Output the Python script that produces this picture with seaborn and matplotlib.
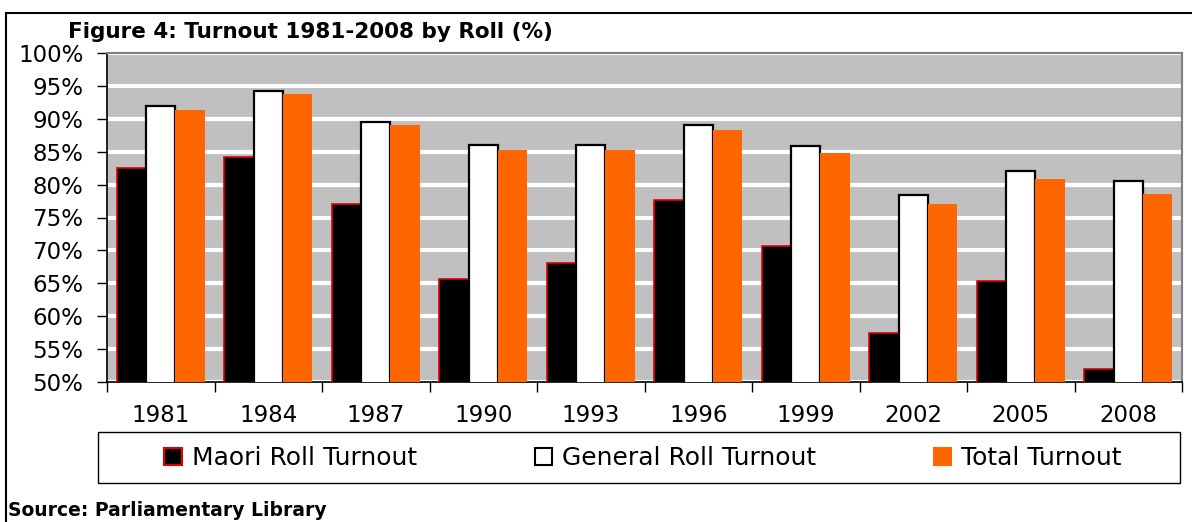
import matplotlib
matplotlib.use("Agg")
import matplotlib.pyplot as plt
import seaborn as sns
import pandas as pd
from matplotlib.patches import Rectangle
from matplotlib.ticker import FixedLocator, NullFormatter, FixedFormatter

years = ["1981", "1984", "1987", "1990", "1993", "1996", "1999", "2002", "2005", "2008"]
maori = [82.5, 84.2, 77.0, 65.6, 68.1, 77.6, 70.7, 57.5, 65.4, 52.0]
general = [91.9, 94.2, 89.5, 86.0, 86.0, 89.0, 85.8, 78.4, 82.1, 80.6]
total = [91.4, 93.7, 89.0, 85.2, 85.2, 88.3, 84.8, 77.0, 80.9, 78.5]
series_names = ["Maori Roll Turnout", "General Roll Turnout", "Total Turnout"]

df = pd.DataFrame({
    "Year": years * 3,
    "Series": [series_names[0]] * 10 + [series_names[1]] * 10 + [series_names[2]] * 10,
    "Turnout": maori + general + total,
})

sns.set_theme(style="white")
plt.rcParams["font.family"] = ["DejaVu Sans"]
plt.rcParams["text.color"] = "black"
plt.rcParams["xtick.color"] = "black"
plt.rcParams["ytick.color"] = "black"
plt.rcParams["xtick.labelcolor"] = "black"
plt.rcParams["ytick.labelcolor"] = "black"

W, H = 1192, 522
fig = plt.figure(figsize=(W / 100, H / 100), dpi=100)
ax = fig.add_axes([107 / W, 1 - 382 / H, 1075 / W, 329 / H])
ax.set_facecolor("#C0C0C0")

palette = {series_names[0]: "#000000", series_names[1]: "#FFFFFF", series_names[2]: "#FF6600"}
sns.barplot(data=df, x="Year", y="Turnout", hue="Series", order=years,
            hue_order=series_names, palette=palette, width=0.82, ax=ax,
            saturation=1, legend=False, zorder=3)

edge = {0: ("#E00000", 1.2), 1: ("#000000", 1.6), 2: ("#FF6600", 0.0)}
for i, cont in enumerate(ax.containers):
    ec, lw = edge[i]
    for b in cont:
        b.set_edgecolor(ec)
        b.set_linewidth(lw)

ax.set_ylim(50, 100)
ax.set_xlim(-0.5, 9.5)
yt = list(range(50, 101, 5))
ax.set_yticks(yt)
ax.set_yticklabels([f"{v}%" for v in yt], fontsize=16.5, color="black")
ax.yaxis.grid(True, color="white", linewidth=3)
ax.set_axisbelow(True)

ax.xaxis.set_major_locator(FixedLocator([i - 0.5 for i in range(11)]))
ax.xaxis.set_major_formatter(NullFormatter())
ax.xaxis.set_minor_locator(FixedLocator(list(range(10))))
ax.xaxis.set_minor_formatter(FixedFormatter(years))
ax.tick_params(axis="x", which="major", direction="out", length=7, width=1, color="black", bottom=True)
ax.tick_params(axis="x", which="minor", length=0, pad=16, labelsize=16.5, labelcolor="black", bottom=True)
ax.tick_params(axis="y", direction="out", length=7, width=1, color="black", pad=10, left=True)
ax.set_xlabel("")
ax.set_ylabel("")

for s in ["left", "bottom"]:
    ax.spines[s].set_color("black")
    ax.spines[s].set_linewidth(1.2)
for s in ["top", "right"]:
    ax.spines[s].set_color("#808080")
    ax.spines[s].set_linewidth(1.5)

# Outer chart frame
fig.patches.append(Rectangle((6 / W, -0.02), 1.1, 1 - 13 / H + 0.02, transform=fig.transFigure,
                             fill=False, edgecolor="black", linewidth=1.5))

# Legend box
fig.patches.append(Rectangle((98 / W, 1 - 483 / H), 1082 / W, 51 / H, transform=fig.transFigure,
                             fill=False, edgecolor="black", linewidth=1.0))
handles = [Rectangle((0, 0), 1, 1, facecolor=palette[n], edgecolor=edge[i][0] if i < 2 else "#FF6600",
                     linewidth=1.5) for i, n in enumerate(series_names)]
fig.legend(handles, series_names, loc="center", bbox_to_anchor=(643 / W, 1 - 458 / H),
           ncol=3, frameon=False, fontsize=18, handlelength=0.7, handleheight=0.7,
           handletextpad=0.4, columnspacing=4.7, labelcolor="black")

fig.text(68 / W, 1 - 32 / H, "Figure 4: Turnout 1981-2008 by Roll (%)", fontsize=15.5,
         fontweight="bold", va="center", ha="left", color="black")
fig.text(8 / W, 1 - 510 / H, "Source: Parliamentary Library", fontsize=13.5,
         fontweight="bold", va="center", ha="left", color="black")

fig.savefig("out.png", dpi=100)
